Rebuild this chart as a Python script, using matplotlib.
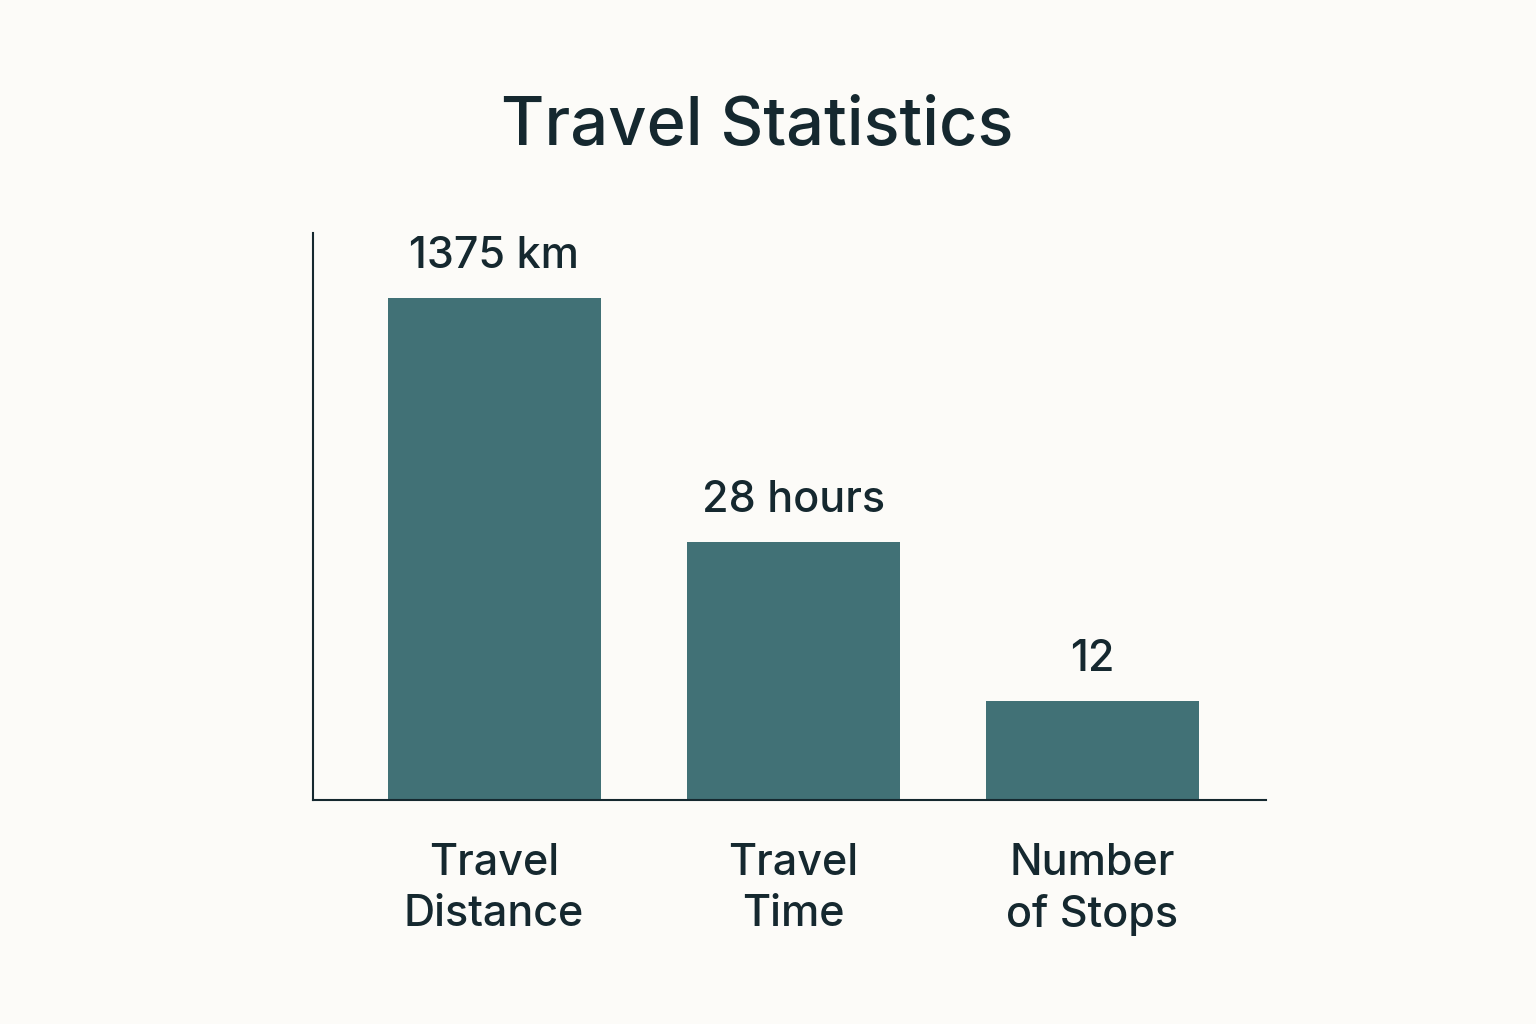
import matplotlib.pyplot as plt

# data (bar heights are the drawn heights, not the values)
categories = ["Travel\nDistance", "Travel\nTime", "Number\nof Stops"]
value_labels = ["1375 km", "28 hours", "12"]
bar_heights = [502, 258, 99]

bg = "#fcfbf8"
bar_color = "#417176"
text_color = "#15282f"

plt.rcParams['font.family'] = ['Inter', 'DejaVu Sans']

fig = plt.figure(figsize=(15.36, 10.24), dpi=100, facecolor=bg)
ax = fig.add_axes([313 / 1536, 1 - 800 / 1024, (1266 - 313) / 1536, (800 - 233) / 1024])
ax.set_facecolor(bg)

x = list(range(len(categories)))
bars = ax.bar(x, bar_heights, width=0.712, color=bar_color, zorder=2)

for b, lab in zip(bars, value_labels):
    ax.annotate(lab, (b.get_x() + b.get_width() / 2, b.get_height()),
                xytext=(0, 15), textcoords="offset points",
                ha="center", va="bottom", fontsize=31, fontweight="medium",
                color=text_color)

ax.set_xlim(-0.605, 2.58)
ax.set_ylim(0, 567)
ax.set_xticks(x)
ax.set_xticklabels(categories, fontsize=31, fontweight="medium",
                   color=text_color, linespacing=1.3)
ax.tick_params(axis="x", length=0, pad=31)
ax.set_yticks([])

for s in ["top", "right"]:
    ax.spines[s].set_visible(False)
for s in ["left", "bottom"]:
    ax.spines[s].set_color(text_color)
    ax.spines[s].set_linewidth(1.5)

fig.text(757 / 1536, 1 - 128 / 1024, "Travel Statistics", ha="center", va="center",
         fontsize=48, fontweight="medium", color=text_color)

fig.savefig("out.png", dpi=100, facecolor=bg)
